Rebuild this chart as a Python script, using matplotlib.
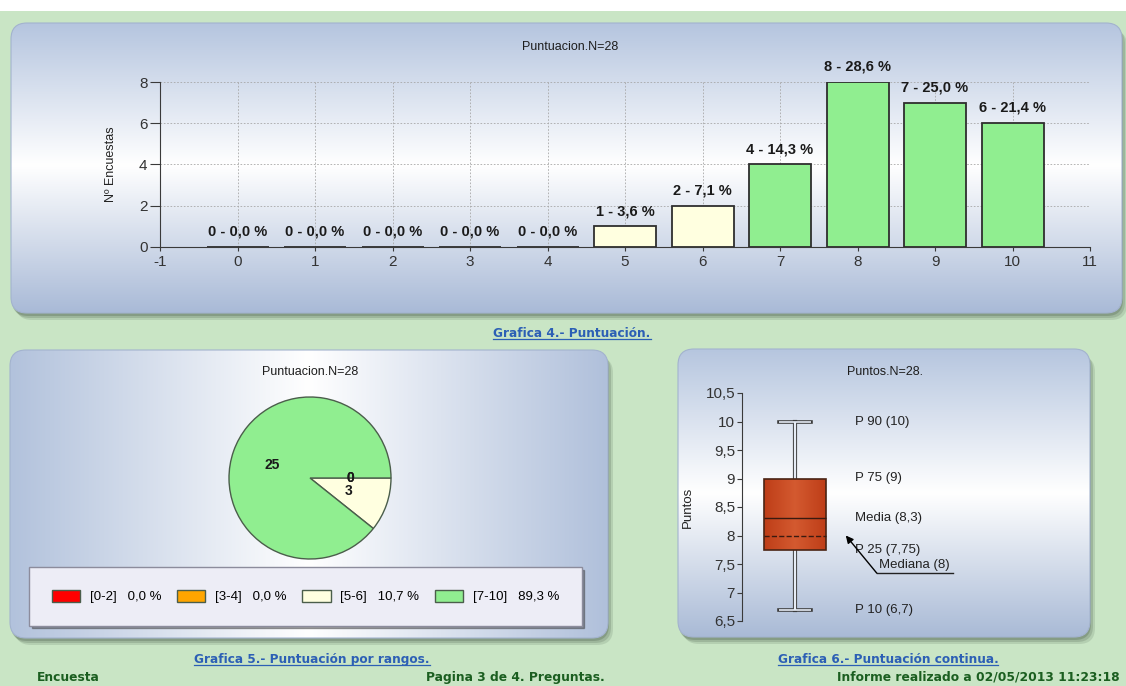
import numpy as np
import matplotlib
matplotlib.use('Agg')
import matplotlib.pyplot as plt
from matplotlib.patches import FancyBboxPatch, Rectangle
from matplotlib.colors import LinearSegmentedColormap
from matplotlib.ticker import FuncFormatter, MultipleLocator

plt.rcParams['font.family'] = ['Liberation Sans', 'DejaVu Sans']
plt.rcParams['axes.unicode_minus'] = False

W, H = 1126, 686

# --- datos ---
puntuaciones = list(range(11))
encuestas = [0, 0, 0, 0, 0, 1, 2, 4, 8, 7, 6]
rangos = ['[0-2]', '[3-4]', '[5-6]', '[7-10]']
rangos_max = [2, 4, 6, 10]
rangos_n = [0, 0, 3, 25]
colores_rango = ['#FF0000', '#FFA500', '#FFFFE0', '#90EE90']
p10, p25, mediana, media, p75, p90 = 6.7, 7.75, 8, 8.3, 9, 10
N = sum(encuestas)


def coma(v):
    return f'{v:g}'.replace('.', ',')


def fpos(x0, y0, x1, y1):
    return [x0 / W, 1 - y1 / H, (x1 - x0) / W, (y1 - y0) / H]


fig = plt.figure(figsize=(W / 100, H / 100), dpi=100)
fig.patch.set_facecolor('#C9E5C5')
bg = fig.add_axes([0, 0, 1, 1])
bg.axis('off')
bg.add_patch(Rectangle((0, 0), W, 11, fc='white', ec='none', zorder=0))


def panel(x0, y0, x1, y1, vertical, mid, c1, c2):
    w, h = x1 - x0, y1 - y0
    style = 'round,pad=0,rounding_size=16'
    for d, a in [(7, 0.18), (5, 0.25), (3, 0.35)]:
        bg.add_patch(FancyBboxPatch((x0 + d - 2, y0 + d), w, h, boxstyle=style,
                                    fc='#5A6E5A', ec='none', alpha=a, zorder=0.5))
    clip = FancyBboxPatch((x0, y0), w, h, boxstyle=style, fc='none',
                          ec='#A3B3CE', lw=0.8, zorder=2)
    bg.add_patch(clip)
    cmap = LinearSegmentedColormap.from_list('g', [(0, c1), (mid, '#FFFFFF'), (1, c2)])
    t = np.linspace(0, 1, 256)
    arr = t[:, None] if vertical else t[None, :]
    im = bg.imshow(arr, cmap=cmap, extent=(x0, x1, y1, y0), aspect='auto',
                   interpolation='bilinear', zorder=1)
    im.set_clip_path(clip)


panel(11, 23, 1122, 313, True, 0.49, '#B5C5DF', '#A9BAD7')
panel(10, 350, 608, 638, False, 0.5, '#B2C2DC', '#B0C0DB')
panel(678, 349, 1090, 637, True, 0.5, '#B6C6DF', '#A9BAD6')
bg.set_xlim(0, W)
bg.set_ylim(H, 0)

# titulos
for txt, x, y in [('Puntuacion.N=28', 570, 47), ('Puntuacion.N=28', 310, 372),
                  ('Puntos.N=28.', 885, 372)]:
    bg.text(x, y, txt, ha='center', va='center', fontsize=9, color='#1E1E1E', zorder=5)

# --- grafica 4: barras ---
ax1 = fig.add_axes(fpos(160, 82, 1090, 247))
ax1.patch.set_alpha(0)
colores = []
for p in puntuaciones:
    for lim, c in zip(rangos_max, colores_rango):
        if p <= lim:
            colores.append(c)
            break
bars = ax1.bar(puntuaciones, encuestas, width=0.8, color=colores,
               edgecolor='#2E2E2E', linewidth=1.3, zorder=3)
for b, v in zip(bars, encuestas):
    etiqueta = f'{v} - {v / N * 100:.1f} %'.replace('.', ',')
    ax1.annotate(etiqueta, (b.get_x() + b.get_width() / 2, v), xytext=(0, 11),
                 textcoords='offset points', ha='center', va='center',
                 fontsize=10.5, fontweight='bold', color='#1A1A1A')
ax1.set_xlim(-1, 11)
ax1.set_ylim(0, 8)
ax1.set_xticks(range(-1, 12))
ax1.set_yticks([0, 2, 4, 6, 8])
ax1.grid(True, ls=(0, (2, 2)), color='#A8A8A8', lw=0.6)
ax1.set_axisbelow(True)
for s in ['top', 'right']:
    ax1.spines[s].set_visible(False)
for s in ['left', 'bottom']:
    ax1.spines[s].set_color('#3A3A3A')
ax1.tick_params(axis='y', length=7, pad=2, labelsize=11, color='#3A3A3A', labelcolor='#333333')
ax1.tick_params(axis='x', length=3, pad=3, labelsize=11, color='#3A3A3A', labelcolor='#333333')
ax1.text(-0.053, 0.5, 'Nº Encuestas', transform=ax1.transAxes, rotation=90,
         ha='center', va='center', fontsize=9, color='#222222')

# --- grafica 5: tarta ---
r, cx, cy, s = 81, 310, 478, 1.06
ax2 = fig.add_axes(fpos(cx - r * s, cy - r * s, cx + r * s, cy + r * s))
wedges, _, autot = ax2.pie(rangos_n, colors=colores_rango, startangle=0, counterclock=False,
                           autopct=lambda p: f'{round(p * N / 100)}', pctdistance=0.5,
                           wedgeprops=dict(edgecolor='#4B5E4B', linewidth=1),
                           textprops=dict(fontsize=10, fontweight='bold', color='#1A1A1A'))
ax2.set_xlim(-s, s)
ax2.set_ylim(-s, s)

etiquetas_leg = [f'{g}   {n / N * 100:.1f} %'.replace('.', ',') for g, n in zip(rangos, rangos_n)]
leg = fig.legend(wedges, etiquetas_leg, loc='center',
                 bbox_to_anchor=((28 + 583) / 2 / W, 1 - (568 + 625) / 2 / H),
                 ncol=4, frameon=True, fancybox=False, shadow=True, borderpad=1.7,
                 handlelength=2.15, handleheight=1.0, handletextpad=0.72, columnspacing=1.2,
                 prop=dict(family='Liberation Sans', size=9.5))
leg.get_frame().set_facecolor('#EDEDF6')
leg.get_frame().set_edgecolor('#8C8C9C')
leg.get_frame().set_alpha(1)

# --- grafica 6: caja ---
ax3 = fig.add_axes(fpos(742, 393, 1080, 621))
ax3.patch.set_alpha(0)
stats = [dict(whislo=p10, q1=p25, med=mediana, mean=media, q3=p75, whishi=p90, fliers=[])]
res = ax3.bxp(stats, positions=[1], widths=1.0, capwidths=0.53, patch_artist=True,
              showmeans=True, meanline=True,
              boxprops=dict(facecolor='#C9471F', edgecolor='#4A2414', lw=1.2),
              whiskerprops=dict(color='#3C3C3C', lw=3.0),
              capprops=dict(color='#3C3C3C', lw=2.6),
              medianprops=dict(color='#3A1A10', ls='--', lw=1, zorder=4),
              meanprops=dict(color='#3A1A10', ls='-', lw=1, zorder=4))
for ln, lw in [(l, 1.6) for l in res['whiskers']] + [(l, 1.2) for l in res['caps']]:
    ax3.plot(ln.get_xdata(), ln.get_ydata(), color='#E6ECF5', lw=lw, zorder=ln.get_zorder() + 0.1,
             solid_capstyle='butt')
# degradado de la caja
caja = res['boxes'][0]
cmap_caja = LinearSegmentedColormap.from_list('c', ['#BE3E18', '#D45A30', '#BE3E18'])
imc = ax3.imshow(np.linspace(0, 1, 64)[None, :], cmap=cmap_caja, aspect='auto',
                 extent=(0.5, 1.5, p25, p75), zorder=2.5, interpolation='bilinear')
imc.set_clip_path(caja)
caja.set_zorder(2.6)
caja.set_facecolor('none')
ax3.set_xlim(0.145, 5.6)
ax3.set_ylim(6.5, 10.5)
ax3.yaxis.set_major_locator(MultipleLocator(0.5))
ax3.yaxis.set_major_formatter(FuncFormatter(lambda v, p: coma(v)))
ax3.xaxis.set_visible(False)
for sp in ['top', 'right', 'bottom']:
    ax3.spines[sp].set_visible(False)
ax3.spines['left'].set_color('#3A3A3A')
ax3.tick_params(axis='y', length=3.5, pad=1.5, labelsize=11, color='#3A3A3A', labelcolor='#333333')
ax3.text(-0.16, 0.5, 'Puntos', transform=ax3.transAxes, rotation=90,
         ha='center', va='center', fontsize=9.5, color='#222222')
for nombre, v in [('P 90', p90), ('P 75', p75), ('Media', media), ('P 25', p25), ('P 10', p10)]:
    ax3.text(1.97, v, f'{nombre} ({coma(v)})', ha='left', va='center', fontsize=9.5, color='#222222')
ax3.text(2.35, 7.48, f'Mediana ({coma(mediana)})', ha='left', va='center', fontsize=9.5, color='#222222')
ax3.plot([2.32, 3.55], [7.34, 7.34], color='#222222', lw=1)
ax3.annotate('', xy=(1.82, mediana), xytext=(2.32, 7.34),
             arrowprops=dict(arrowstyle='-|>', color='black', lw=1, shrinkA=0, shrinkB=0,
                             mutation_scale=11))

# --- pies de grafica ---
subrayados = []
for txt, x, y in [('Grafica 4.- Puntuación.', 572, 337),
                  ('Grafica 5.- Puntuación por rangos.', 312, 663),
                  ('Grafica 6.- Puntuación continua.', 888, 663)]:
    subrayados.append(bg.text(x, y, txt, ha='center', va='baseline', fontsize=8.7,
                              fontweight='bold', family='DejaVu Sans', color='#2C5FB5', zorder=5))
for txt, x, ha in [('Encuesta', 37, 'left'), ('Pagina 3 de 4. Preguntas.', 515, 'center'),
                   ('Informe realizado a 02/05/2013 11:23:18', 1120, 'right')]:
    bg.text(x, 681, txt, ha=ha, va='baseline', fontsize=8.8, fontweight='bold',
            family='DejaVu Sans', color='#1B5E20', zorder=5)

fig.canvas.draw()
inv = bg.transData.inverted()
for t in subrayados:
    bb = t.get_window_extent()
    x0 = inv.transform((bb.x0, 0))[0]
    x1 = inv.transform((bb.x1, 0))[0]
    y = t.get_position()[1] + 2
    bg.plot([x0, x1], [y, y], color='#2C5FB5', lw=0.9, zorder=5)
bg.set_xlim(0, W)
bg.set_ylim(H, 0)

fig.savefig('out.png', dpi=100, facecolor=fig.get_facecolor())
